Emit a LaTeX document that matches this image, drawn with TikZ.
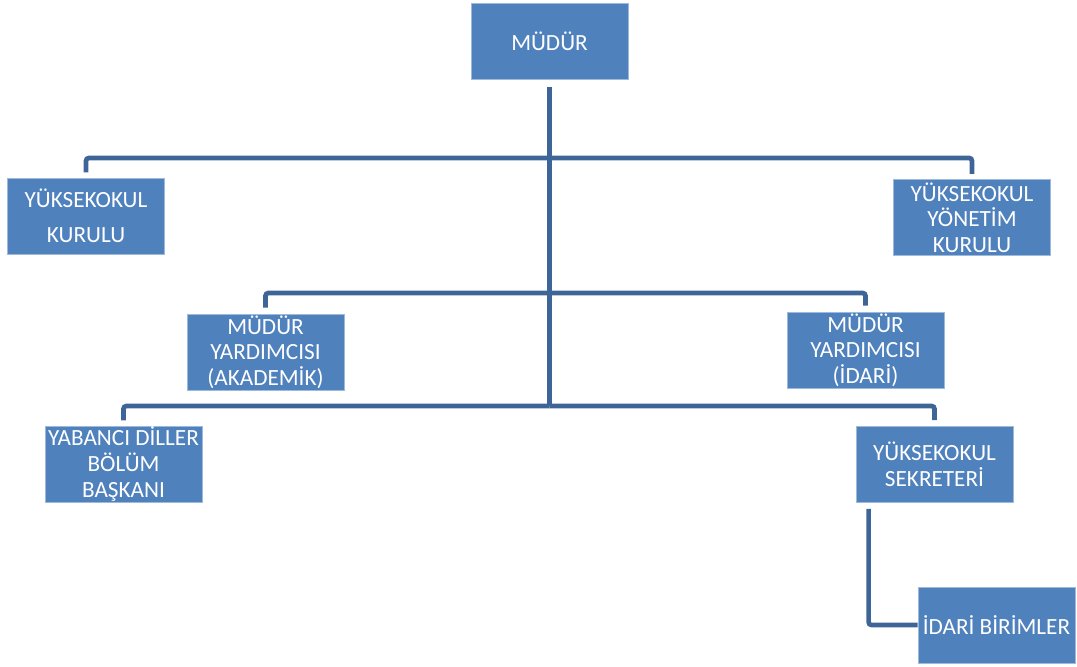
\documentclass[tikz,border=0pt]{standalone}
\usepackage{fontspec}
\setmainfont{Carlito}
\usetikzlibrary{positioning}
\definecolor{boxblue}{HTML}{4F81BD}
\definecolor{lineblue}{HTML}{3D6597}
\tikzset{
unit/.style={rectangle, fill=boxblue, draw=boxblue!55!white, line width=0.5pt,
  text=white, minimum width=3.925cm, minimum height=1.9cm, inner sep=0pt,
  align=center, font=\fontsize{16.5}{18.2}\selectfont},
link/.style={draw=lineblue, line width=3.3pt, rounded corners=2pt}
}
\begin{document}
\begin{tikzpicture}[x=0.025cm,y=-0.025cm]
\useasboundingbox (0,0) rectangle (1077,666);
\node[unit] (mudur) at (549.5,41.5) {MÜDÜR};
\node[unit] (kurul) at (86,216) {YÜKSEKOKUL\\[7pt]KURULU};
\node[unit] (yonetim) at (972,217.5) {YÜKSEKOKUL\\YÖNETİM\\KURULU};
\node[unit] (akademik) at (265.5,352) {MÜDÜR\\YARDIMCISI\\(AKADEMİK)};
\node[unit] (idari) at (865.5,350) {MÜDÜR\\YARDIMCISI\\(İDARİ)};
\node[unit] (yabanci) at (123.5,464) {YABANCI DİLLER\\BÖLÜM\\BAŞKANI};
\node[unit] (sekreter) at (934.5,464.5) {YÜKSEKOKUL\\SEKRETERİ};
\node[unit] (birimler) at (996.5,625) {\raisebox{-2pt}{İDARİ BİRİMLER}};
\coordinate (bar1) at (549.5,158);
\coordinate (bar2) at (549.5,293);
\coordinate (bar3) at (549.5,406);
\draw[link, shorten <=0.175cm] (mudur.south) -- (bar3);
\draw[link, shorten >=0.13cm] (bar1) -| (kurul.north);
\draw[link, shorten >=0.13cm] (bar1) -| (yonetim.north);
\draw[link, shorten >=0.15cm] (bar2) -| (akademik.north);
\draw[link, shorten >=0.15cm] (bar2) -| (idari.north);
\draw[link, shorten >=0.13cm] (bar3) -| (yabanci.north);
\draw[link, shorten >=0.15cm] (bar3) -| (sekreter.north);
\draw[link] (sekreter.south west) ++(13,6) |- (birimler.west);
\end{tikzpicture}
\end{document}
